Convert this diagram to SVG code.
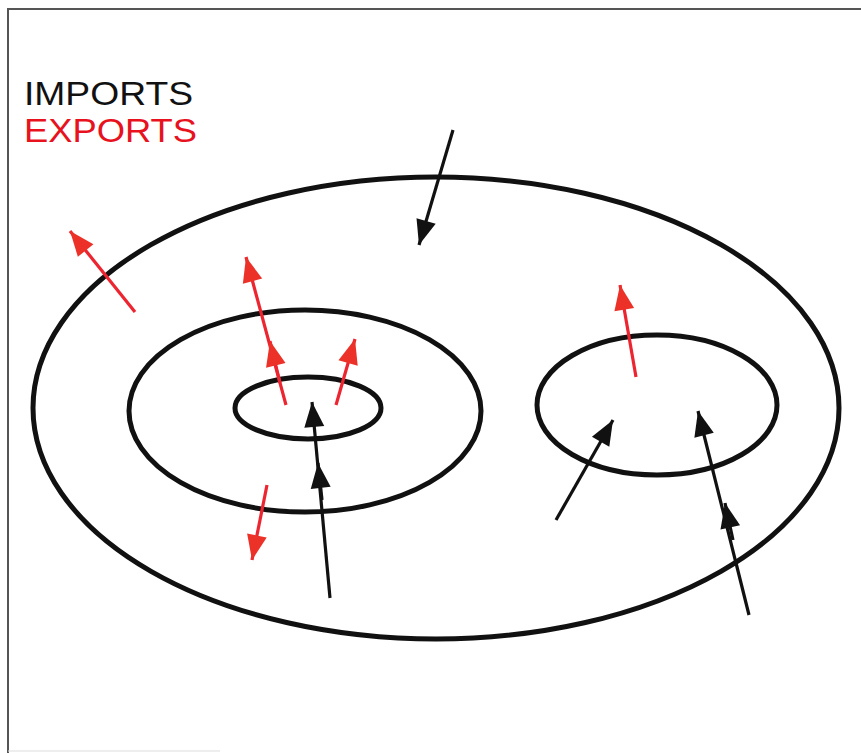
<svg xmlns="http://www.w3.org/2000/svg" width="861" height="753" viewBox="0 0 861 753">
<defs>
<style>
.ring{fill:none;stroke:#111;stroke-width:5}
.imp{stroke:#111;stroke-width:3.2;fill:none}
.exp{stroke:#ec2530;stroke-width:3.2;fill:none}
.lbl{font-family:"Liberation Sans",Arial,sans-serif;font-size:33px}
</style>
<marker id="hb" markerUnits="userSpaceOnUse" markerWidth="28" markerHeight="22" refX="25" refY="10" orient="auto" overflow="visible">
<path d="M0,0 L25,10 L0,20 z" fill="#111"/>
</marker>
<marker id="hr" markerUnits="userSpaceOnUse" markerWidth="28" markerHeight="22" refX="25" refY="10" orient="auto" overflow="visible">
<path d="M0,0 L25,10 L0,20 z" fill="#ec3228"/>
</marker>
</defs>
<rect width="861" height="753" fill="#fff"/>
<g id="frame" stroke="#555" fill="none">
<path d="M8,753 V9 H861" stroke-width="2"/>
<path d="M8,751 H220" stroke="#ddd" stroke-width="1"/>
</g>
<g id="legend">
<text class="lbl" x="24" y="105" fill="#111" textLength="169" lengthAdjust="spacingAndGlyphs">IMPORTS</text>
<text class="lbl" x="24" y="142" fill="#e8121e" textLength="173" lengthAdjust="spacingAndGlyphs">EXPORTS</text>
</g>
<g id="outer"><ellipse class="ring" cx="436" cy="408" rx="403" ry="231"/></g>
<g id="middle"><ellipse class="ring" cx="305" cy="411" rx="176" ry="101"/></g>
<g id="inner"><ellipse class="ring" cx="308" cy="408" rx="73" ry="31"/></g>
<g id="right"><ellipse class="ring" cx="657" cy="405" rx="120" ry="70"/></g>
<g id="connectors">
<line class="imp" x1="453" y1="130" x2="419" y2="245" marker-end="url(#hb)"/>
<line class="imp" x1="330" y1="598" x2="312" y2="402" marker-end="url(#hb)"/>
<line class="imp" x1="322" y1="500" x2="318" y2="463" marker-end="url(#hb)"/>
<line class="imp" x1="556" y1="520" x2="613" y2="420" marker-end="url(#hb)"/>
<line class="imp" x1="749" y1="615" x2="698" y2="411" marker-end="url(#hb)"/>
<line class="imp" x1="733" y1="540" x2="725" y2="503" marker-end="url(#hb)"/>
<line class="exp" x1="135" y1="312" x2="70" y2="231" marker-end="url(#hr)"/>
<line class="exp" x1="286" y1="405" x2="246" y2="257" marker-end="url(#hr)"/>
<line class="exp" x1="280" y1="383" x2="270" y2="341" marker-end="url(#hr)"/>
<line class="exp" x1="336" y1="405" x2="355" y2="339" marker-end="url(#hr)"/>
<line class="exp" x1="636" y1="377" x2="620" y2="285" marker-end="url(#hr)"/>
<line class="exp" x1="267" y1="485" x2="252" y2="560" marker-end="url(#hr)"/>
</g>
</svg>
